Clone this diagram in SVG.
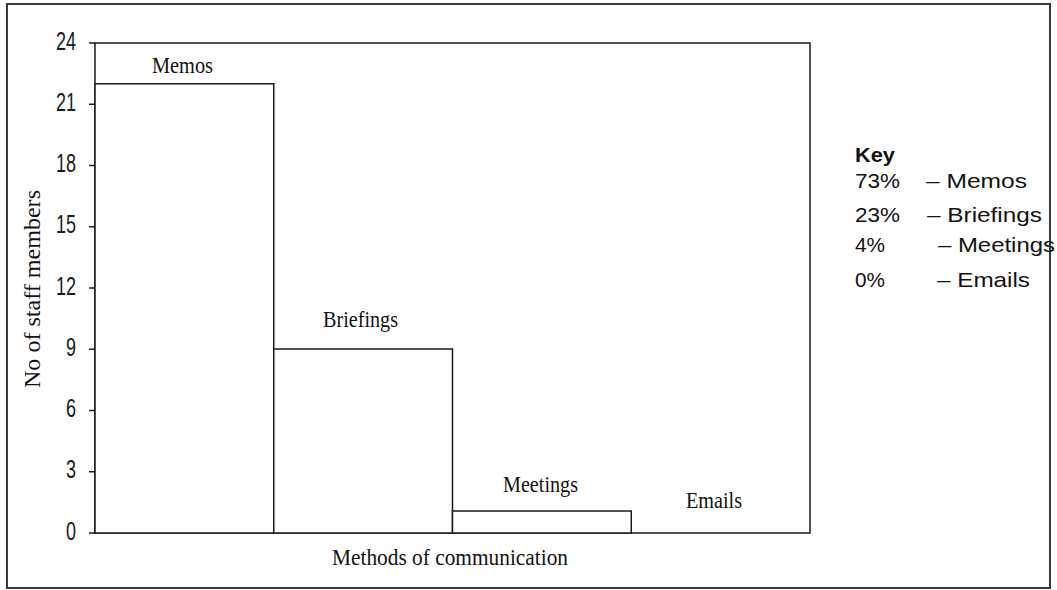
<svg xmlns="http://www.w3.org/2000/svg" width="1057" height="590" viewBox="0 0 1057 590">
<style>
.ln{fill:none;stroke:#1a1a1a;stroke-width:1.5}
.bar{fill:#fff;stroke:#1a1a1a;stroke-width:1.5}
.tk{font-family:"Liberation Sans",Arial,sans-serif;font-size:18px;fill:#1a1a1a;text-anchor:end}
.cat{font-family:"Liberation Serif","Times New Roman",serif;font-size:23px;fill:#111}
.key{font-family:"Liberation Sans",Arial,sans-serif;font-size:21px;fill:#111}
</style>
<rect width="1057" height="590" fill="#fff"/>
<rect x="7" y="4" width="1043" height="584" fill="none" stroke="#3a3a3a" stroke-width="2"/>
<g id="plot">
<rect class="ln" x="95" y="43" width="715" height="490"/>
<g id="ticks" class="ln">
<path d="M89 43H95M89 104.25H95M89 165.5H95M89 226.75H95M89 288H95M89 349.25H95M89 410.5H95M89 471.75H95M89 533H95"/>
</g>
<g id="ticklabels">
<text class="tk" transform="translate(76,49.5) scale(1,1.4)">24</text>
<text class="tk" transform="translate(76,110.75) scale(1,1.4)">21</text>
<text class="tk" transform="translate(76,172) scale(1,1.4)">18</text>
<text class="tk" transform="translate(76,233.25) scale(1,1.4)">15</text>
<text class="tk" transform="translate(76,294.5) scale(1,1.4)">12</text>
<text class="tk" transform="translate(76,355.75) scale(1,1.4)">9</text>
<text class="tk" transform="translate(76,417) scale(1,1.4)">6</text>
<text class="tk" transform="translate(76,478.25) scale(1,1.4)">3</text>
<text class="tk" transform="translate(76,539.5) scale(1,1.4)">0</text>
</g>
</g>
<g id="bar-memos">
<rect class="bar" x="95" y="83.8" width="178.75" height="449.2"/>
<text class="cat" x="152" y="73" textLength="61" lengthAdjust="spacingAndGlyphs">Memos</text>
</g>
<g id="bar-briefings">
<rect class="bar" x="273.75" y="349" width="178.75" height="184"/>
<text class="cat" x="323" y="327" textLength="75" lengthAdjust="spacingAndGlyphs">Briefings</text>
</g>
<g id="bar-meetings">
<rect class="bar" x="452.5" y="511" width="178.75" height="22"/>
<text class="cat" x="503" y="492" textLength="75" lengthAdjust="spacingAndGlyphs">Meetings</text>
</g>
<g id="bar-emails">
<text class="cat" x="686" y="508" textLength="56" lengthAdjust="spacingAndGlyphs">Emails</text>
</g>
<g id="axis-titles">
<text class="cat" x="332" y="565" textLength="236" lengthAdjust="spacingAndGlyphs">Methods of communication</text>
<text class="cat" font-size="24" transform="translate(40,388) rotate(-90)" x="0" y="0" textLength="198" lengthAdjust="spacingAndGlyphs">No of staff members</text>
</g>
<g id="key">
<text class="key" x="855" y="162" font-weight="bold" textLength="40" lengthAdjust="spacingAndGlyphs">Key</text>
<text class="key" x="855" y="188" textLength="45" lengthAdjust="spacingAndGlyphs">73%</text>
<text class="key" x="926" y="188" textLength="101" lengthAdjust="spacingAndGlyphs">– Memos</text>
<text class="key" x="855" y="222" textLength="45" lengthAdjust="spacingAndGlyphs">23%</text>
<text class="key" x="927" y="222" textLength="115" lengthAdjust="spacingAndGlyphs">– Briefings</text>
<text class="key" x="855" y="252" textLength="30" lengthAdjust="spacingAndGlyphs">4%</text>
<text class="key" x="938" y="252" textLength="117" lengthAdjust="spacingAndGlyphs">– Meetings</text>
<text class="key" x="855" y="287" textLength="30" lengthAdjust="spacingAndGlyphs">0%</text>
<text class="key" x="937" y="287" textLength="93" lengthAdjust="spacingAndGlyphs">– Emails</text>
</g>
</svg>
